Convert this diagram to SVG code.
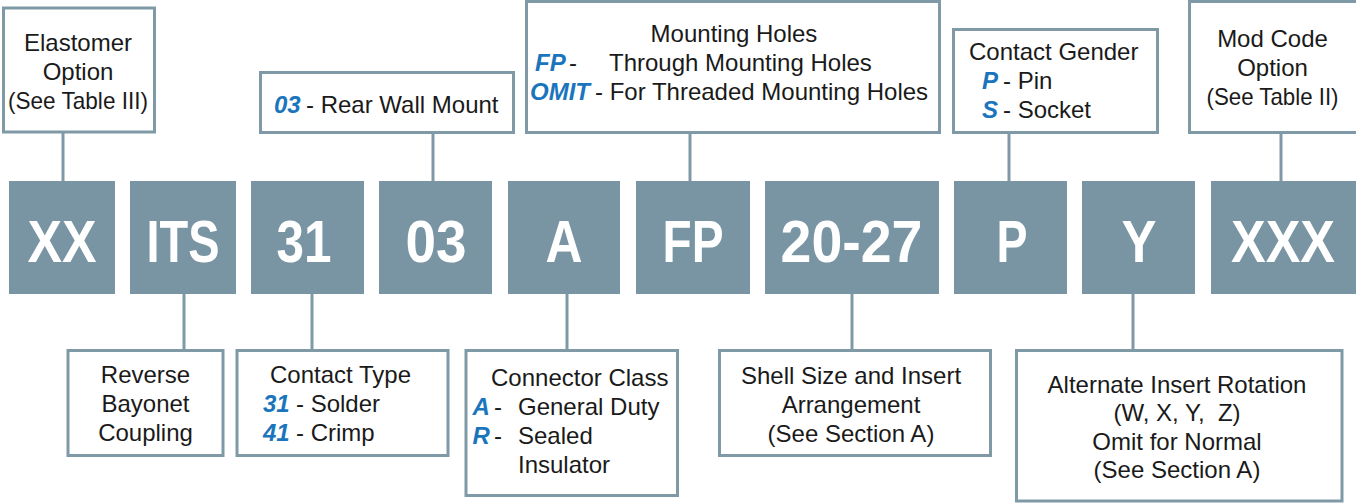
<svg xmlns="http://www.w3.org/2000/svg" width="1356" height="504" viewBox="0 0 1356 504">
<style>
.blk{fill:#7995a3}
.bt{font-family:"Liberation Sans",Arial,sans-serif;font-weight:bold;font-size:60px;fill:#ffffff;text-anchor:middle}
.box{fill:#ffffff;stroke:#7f99a7;stroke-width:3}
.t{font-family:"Liberation Sans",Arial,sans-serif;font-size:24px;fill:#1a1a1a}
.c{text-anchor:middle}
.b{font-family:"Liberation Sans",Arial,sans-serif;font-size:24px;font-weight:bold;font-style:italic;fill:#1a75bc}
.ln{stroke:#7f99a7;stroke-width:3;fill:none}
</style>
<rect width="1356" height="504" fill="#ffffff"/>
<g id="connectors">
<line class="ln" x1="63" y1="133" x2="63" y2="181"/>
<line class="ln" x1="433" y1="133" x2="433" y2="181"/>
<line class="ln" x1="690" y1="133" x2="690" y2="181"/>
<line class="ln" x1="1009" y1="133" x2="1009" y2="181"/>
<line class="ln" x1="1281" y1="133" x2="1281" y2="181"/>
<line class="ln" x1="184" y1="294" x2="184" y2="350"/>
<line class="ln" x1="312" y1="294" x2="312" y2="350"/>
<line class="ln" x1="567" y1="294" x2="567" y2="350"/>
<line class="ln" x1="852" y1="294" x2="852" y2="350"/>
<line class="ln" x1="1133" y1="294" x2="1133" y2="350"/>
</g>
<g id="code-XX"><rect class="blk" x="9" y="181" width="106" height="113"/><text class="bt" x="62" y="262" textLength="69" lengthAdjust="spacingAndGlyphs">XX</text></g>
<g id="code-ITS"><rect class="blk" x="130" y="181" width="106" height="113"/><text class="bt" x="183" y="262" textLength="73" lengthAdjust="spacingAndGlyphs">ITS</text></g>
<g id="code-31"><rect class="blk" x="251" y="181" width="113" height="113"/><text class="bt" x="304" y="262" textLength="55" lengthAdjust="spacingAndGlyphs">31</text></g>
<g id="code-03"><rect class="blk" x="379" y="181" width="113" height="113"/><text class="bt" x="436" y="262" textLength="61" lengthAdjust="spacingAndGlyphs">03</text></g>
<g id="code-A"><rect class="blk" x="508" y="181" width="112" height="113"/><text class="bt" x="564" y="262" textLength="37" lengthAdjust="spacingAndGlyphs">A</text></g>
<g id="code-FP"><rect class="blk" x="636" y="181" width="114" height="113"/><text class="bt" x="693" y="262" textLength="61" lengthAdjust="spacingAndGlyphs">FP</text></g>
<g id="code-2027"><rect class="blk" x="765" y="181" width="174" height="113"/><text class="bt" x="851.5" y="262" textLength="142" lengthAdjust="spacingAndGlyphs">20-27</text></g>
<g id="code-P"><rect class="blk" x="954" y="181" width="113" height="113"/><text class="bt" x="1012" y="262" textLength="31" lengthAdjust="spacingAndGlyphs">P</text></g>
<g id="code-Y"><rect class="blk" x="1082" y="181" width="113" height="113"/><text class="bt" x="1139" y="262" textLength="35" lengthAdjust="spacingAndGlyphs">Y</text></g>
<g id="code-XXX"><rect class="blk" x="1211" y="181" width="150" height="113"/><text class="bt" x="1283" y="262" textLength="104" lengthAdjust="spacingAndGlyphs">XXX</text></g>

<g id="elastomer"><rect class="box" x="3.5" y="8" width="151" height="124"/>
<text class="t c" x="78" y="51">Elastomer</text><text class="t c" x="78" y="80">Option</text><text class="t c" x="78" y="109" textLength="140" lengthAdjust="spacingAndGlyphs">(See Table III)</text></g>
<g id="rear-wall"><rect class="box" x="260.5" y="72.5" width="253" height="60"/>
<text class="b" x="274" y="113">03</text><text class="t" x="306" y="113">- Rear Wall Mount</text></g>
<g id="mounting"><rect class="box" x="526.5" y="1.5" width="413" height="131"/>
<text class="t c" x="734" y="42">Mounting Holes</text>
<text class="b" x="535" y="71">FP</text><text class="t" x="569" y="71">-</text><text class="t" x="609" y="71">Through Mounting Holes</text>
<text class="b" x="530" y="100">OMIT</text><text class="t" x="595" y="100">- For Threaded Mounting Holes</text></g>
<g id="gender"><rect class="box" x="953.5" y="29.5" width="204" height="103"/>
<text class="t" x="969" y="60">Contact Gender</text>
<text class="b" x="982" y="89">P</text><text class="t" x="1003" y="89">- Pin</text>
<text class="b" x="982" y="118">S</text><text class="t" x="1003" y="118">- Socket</text></g>
<g id="modcode"><rect class="box" x="1189.5" y="1.5" width="200" height="131"/>
<text class="t c" x="1272.5" y="47">Mod Code</text><text class="t c" x="1272.5" y="76">Option</text><text class="t c" x="1272.5" y="105" textLength="132" lengthAdjust="spacingAndGlyphs">(See Table II)</text></g>

<g id="reverse"><rect class="box" x="68" y="350.5" width="155" height="105"/>
<text class="t c" x="145.5" y="383">Reverse</text><text class="t c" x="145.5" y="412">Bayonet</text><text class="t c" x="145.5" y="441">Coupling</text></g>
<g id="contact-type"><rect class="box" x="237" y="350.5" width="211" height="105"/>
<text class="t" x="270" y="383">Contact Type</text>
<text class="b" x="263" y="412">31</text><text class="t" x="296" y="412">- Solder</text>
<text class="b" x="263" y="441">41</text><text class="t" x="296" y="441">- Crimp</text></g>
<g id="connector-class"><rect class="box" x="466" y="350.5" width="211.5" height="145"/>
<text class="t" x="491" y="386">Connector Class</text>
<text class="b" x="472.5" y="415">A</text><text class="t" x="494" y="415">-</text><text class="t" x="518" y="415">General Duty</text>
<text class="b" x="472.5" y="444">R</text><text class="t" x="494" y="444">-</text><text class="t" x="518" y="444">Sealed</text>
<text class="t" x="518" y="473">Insulator</text></g>
<g id="shell"><rect class="box" x="719.5" y="350.5" width="271" height="105"/>
<text class="t c" x="851" y="384">Shell Size and Insert</text><text class="t c" x="851" y="413">Arrangement</text><text class="t c" x="851" y="442">(See Section A)</text></g>
<g id="alternate"><rect class="box" x="1016.5" y="350.5" width="325.5" height="150.5"/>
<text class="t c" x="1177" y="393">Alternate Insert Rotation</text>
<text class="t c" x="1177" y="421" xml:space="preserve">(W, X, Y,  Z)</text>
<text class="t c" x="1177" y="450">Omit for Normal</text>
<text class="t c" x="1177" y="478">(See Section A)</text></g>
</svg>
